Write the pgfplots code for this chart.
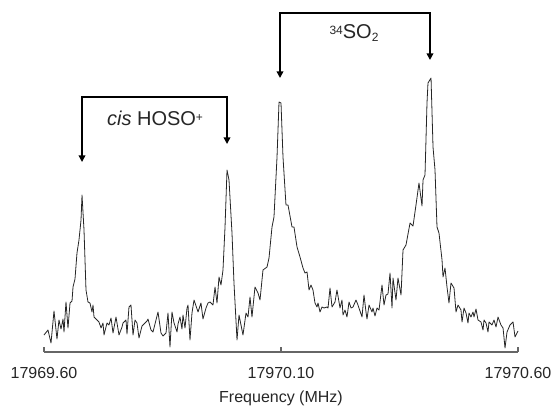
\documentclass[border=0pt]{standalone}
\usepackage{fontspec}
\setmainfont{Liberation Sans}
\usepackage{pgfplots}
\pgfplotsset{compat=1.18}
\usepackage{pgfplotstable}
\usetikzlibrary{arrows.meta}

% df = frequency offset from 17969.60 MHz, I = intensity (arb. units)
\pgfplotstableread{
df I
0.0000 17
0.0084 22
0.0148 9
0.0211 41
0.0274 13
0.0316 32
0.0359 23
0.0401 33
0.0422 20
0.0464 50
0.0506 24
0.0549 49
0.0591 51
0.0612 65
0.0654 73
0.0696 99
0.0738 112
0.0781 132
0.0802 157
0.0844 122
0.0886 62
0.0928 50
0.0970 49
0.1013 40
0.1034 47
0.1055 35
0.1118 32
0.1160 30
0.1203 24
0.1245 29
0.1266 17
0.1329 29
0.1371 27
0.1414 34
0.1456 19
0.1519 35
0.1582 17
0.1646 25
0.1667 29
0.1730 32
0.1751 18
0.1793 45
0.1835 47
0.1878 17
0.1920 32
0.1962 29
0.2004 14
0.2068 26
0.2131 29
0.2173 31
0.2194 33
0.2257 22
0.2300 20
0.2363 32
0.2405 40
0.2468 19
0.2511 16
0.2574 19
0.2616 39
0.2658 5
0.2700 40
0.2743 29
0.2806 20
0.2827 28
0.2869 35
0.2911 23
0.2932 37
0.2975 24
0.3017 44
0.3038 47
0.3080 12
0.3122 39
0.3165 52
0.3207 46
0.3249 40
0.3312 49
0.3354 33
0.3418 44
0.3460 49
0.3502 50
0.3565 47
0.3608 65
0.3650 49
0.3692 75
0.3734 67
0.3776 82
0.3819 125
0.3861 182
0.3903 172
0.3966 119
0.4008 69
0.4072 12
0.4114 37
0.4156 27
0.4198 17
0.4262 39
0.4304 35
0.4346 55
0.4388 35
0.4451 65
0.4515 59
0.4557 52
0.4620 82
0.4705 85
0.4747 94
0.4810 125
0.4852 135
0.4916 195
0.4958 250
0.5000 249
0.5042 195
0.5105 147
0.5148 147
0.5232 125
0.5274 125
0.5338 105
0.5401 95
0.5464 84
0.5506 79
0.5549 80
0.5591 62
0.5633 67
0.5675 62
0.5717 49
0.5759 45
0.5781 49
0.5823 40
0.5865 45
0.5907 44
0.5970 45
0.5992 44
0.6034 64
0.6076 45
0.6139 50
0.6181 62
0.6245 44
0.6287 52
0.6308 37
0.6350 42
0.6392 35
0.6435 50
0.6477 44
0.6519 45
0.6582 52
0.6624 47
0.6709 35
0.6751 57
0.6793 40
0.6814 33
0.6857 47
0.6920 40
0.6941 44
0.6983 36
0.7025 44
0.7068 42
0.7131 67
0.7173 47
0.7215 57
0.7257 58
0.7300 79
0.7342 44
0.7363 74
0.7426 52
0.7468 74
0.7532 57
0.7574 102
0.7637 107
0.7722 129
0.7785 126
0.7848 147
0.7911 169
0.7975 146
0.7996 172
0.8038 177
0.8080 249
0.8101 269
0.8165 274
0.8207 205
0.8249 182
0.8291 125
0.8333 119
0.8397 92
0.8418 75
0.8460 84
0.8502 65
0.8544 49
0.8586 69
0.8650 64
0.8692 40
0.8734 47
0.8797 42
0.8819 30
0.8861 44
0.8903 39
0.8945 29
0.8966 39
0.9008 35
0.9051 40
0.9072 35
0.9114 43
0.9156 32
0.9219 30
0.9262 22
0.9283 32
0.9325 29
0.9367 20
0.9388 30
0.9451 27
0.9494 32
0.9536 25
0.9578 35
0.9641 27
0.9684 24
0.9726 4
0.9768 20
0.9831 27
0.9895 30
0.9937 15
1.0000 21
}\spectrum

\begin{document}
\begin{tikzpicture}
\useasboundingbox (0,0) rectangle (416.25pt,307.5pt);
\begin{axis}[
  at={(33pt,43.5pt)}, anchor=south west,
  scale only axis, width=355.5pt, height=264pt,
  xmin=0, xmax=1, ymin=0, ymax=352,
  axis x line=bottom, axis y line=none,
  axis line style={draw=black!60, line width=0.8pt, -},
  xtick={0,0.5,1}, xticklabels={17969.60,17970.10,17970.60},
  tick align=inside, major tick length=4pt,
  tick style={draw=black!60, line width=0.8pt},
  ytick=\empty,
  xticklabel style={font=\fontsize{12}{14}\selectfont, text=black!85, yshift=-8pt},
  xlabel={Frequency (MHz)},
  xlabel style={font=\fontsize{12}{14}\selectfont, text=black!85, yshift=-2pt},
  clip=false,
]
\addplot[black!85, line width=0.6pt, line join=round] table[x=df,y=I]{\spectrum};
\draw[{Triangle[width=5pt,length=5pt]}-{Triangle[width=5pt,length=5pt]}, line width=1.1pt, line join=miter]
  (axis cs:0.0802,190) -- (axis cs:0.0802,255) -- (axis cs:0.3861,255) -- (axis cs:0.3861,208);
\draw[{Triangle[width=5pt,length=5pt]}-{Triangle[width=5pt,length=5pt]}, line width=1.1pt, line join=miter]
  (axis cs:0.4979,274) -- (axis cs:0.4979,339) -- (axis cs:0.8143,339) -- (axis cs:0.8143,292);
\node[font=\fontsize{15}{17}\selectfont, text=black!85] at (axis cs:0.2342,234) {\textit{cis} HOSO\raisebox{0.35ex}{\fontsize{9}{10}\selectfont +}};
\node[font=\fontsize{15}{17}\selectfont, text=black!85] at (axis cs:0.6540,319) {\raisebox{0.4ex}{\fontsize{9}{10}\selectfont 34}SO\raisebox{-0.3ex}{\fontsize{9}{10}\selectfont 2}};
\end{axis}
\end{tikzpicture}
\end{document}
